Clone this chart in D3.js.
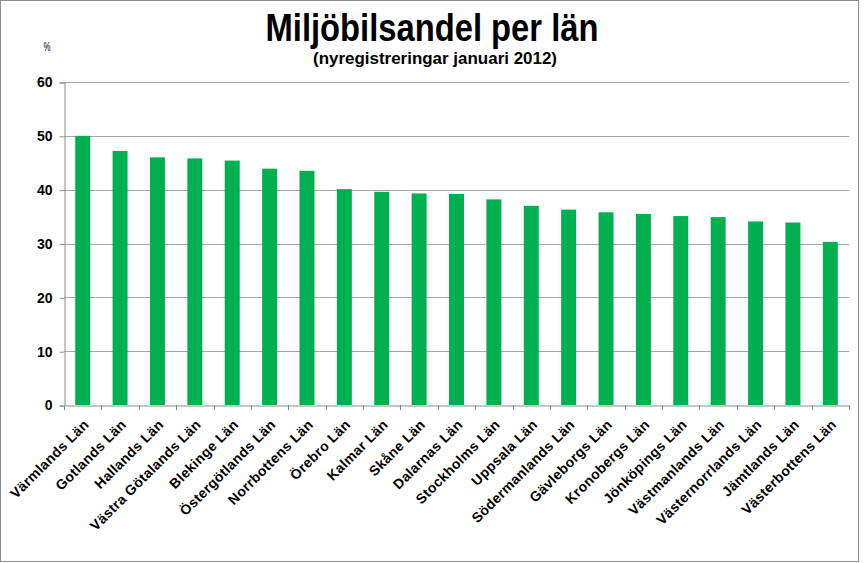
<!DOCTYPE html>
<html><head><meta charset="utf-8">
<script src="https://cdn.jsdelivr.net/npm/d3@7"></script>
<style>body{margin:0;background:#fff}svg{display:block}</style>
</head><body>
<svg id="c" width="864" height="563"></svg>
<script>
const categories = ["Värmlands Län","Gotlands Län","Hallands Län","Västra Götalands Län","Blekinge Län","Östergötlands Län","Norrbottens Län","Örebro Län","Kalmar Län","Skåne Län","Dalarnas Län","Stockholms Län","Uppsala Län","Södermanlands Län","Gävleborgs Län","Kronobergs Län","Jönköpings Län","Västmanlands Län","Västernorrlands Län","Jämtlands Län","Västerbottens Län"];
const values = [50.0,47.2,46.0,45.8,45.4,43.9,43.5,40.1,39.6,39.3,39.2,38.2,37.0,36.3,35.8,35.5,35.1,34.9,34.1,33.9,30.3];
const yTicks = [0,10,20,30,40,50,60];
const title = "Miljöbilsandel per län";
const subtitle = "(nyregistreringar januari 2012)";
const unit = "%";

const svg = d3.select("#c");
const m = {left:64, right:849, top:82, bottom:405};
const x = d3.scaleBand().domain(categories).range([m.left, m.right]).paddingInner(0.6).paddingOuter(0.3);
const y = d3.scaleLinear().domain([0,60]).range([m.bottom, m.top]);

svg.append("rect").attr("x",0.5).attr("y",0.5).attr("width",858).attr("height",561)
  .attr("fill","#fff").attr("stroke","#8c8c8c");

// gridlines
svg.append("g").selectAll("line").data(yTicks.filter(d=>d>0)).join("line")
  .attr("x1",m.left).attr("x2",m.right)
  .attr("y1",d=>Math.round(y(d))+0.5).attr("y2",d=>Math.round(y(d))+0.5)
  .attr("stroke","#a6a6a6");

// bars
svg.append("g").selectAll("rect").data(values).join("rect")
  .attr("x",(d,i)=>x(categories[i])).attr("width",x.bandwidth())
  .attr("y",d=>y(d)).attr("height",d=>y(0)-y(d))
  .attr("fill","#00b050");

// y axis
const ya = d3.axisLeft(y).tickValues(yTicks).tickSize(5).tickPadding(7);
const gy = svg.append("g").attr("transform",`translate(${m.left+0.5},0.5)`).call(ya);
gy.select(".domain").attr("stroke","#8c8c8c");
gy.selectAll(".tick line").attr("stroke","#8c8c8c");
gy.selectAll("text").attr("font-family","Liberation Sans, Arial, sans-serif").attr("font-weight","bold").attr("font-size","14px").attr("fill","#000");

// x axis
const xa = d3.axisBottom(x).tickSize(0).tickFormat(d=>d);
const gx = svg.append("g").attr("transform",`translate(0,${m.bottom+0.5})`).call(xa);
gx.select(".domain").attr("stroke","#8c8c8c");
gx.selectAll(".tick text")
  .attr("font-family","Liberation Sans, Arial, sans-serif").attr("font-weight","bold").attr("font-size","14px").attr("fill","#000")
  .attr("letter-spacing","0.3px")
  .attr("text-anchor","end").attr("dy",null).attr("y",0)
  .attr("transform","translate(7,20) rotate(-45)");
// tick marks at band boundaries
const step = x.step();
const bounds = d3.range(categories.length+1).map(i=>m.left + i*step);
svg.append("g").selectAll("line").data(bounds).join("line")
  .attr("x1",d=>Math.round(d)+0.5).attr("x2",d=>Math.round(d)+0.5)
  .attr("y1",m.bottom).attr("y2",m.bottom+5).attr("stroke","#8c8c8c");

// titles
svg.append("text").attr("x",432).attr("y",41).attr("text-anchor","middle")
  .attr("font-family","Liberation Sans, Arial, sans-serif")
  .attr("font-weight","bold").attr("font-size","39px")
  .attr("textLength",333).attr("lengthAdjust","spacingAndGlyphs").text(title);
svg.append("text").attr("x",435).attr("y",64).attr("text-anchor","middle")
  .attr("font-family","Liberation Sans, Arial, sans-serif")
  .attr("font-weight","bold").attr("font-size","16px")
  .attr("textLength",244).attr("lengthAdjust","spacingAndGlyphs").text(subtitle);
svg.append("text").attr("x",47).attr("y",51).attr("text-anchor","middle")
  .attr("font-family","Liberation Sans, sans-serif")
  .attr("font-size","12px").attr("textLength",7).attr("lengthAdjust","spacingAndGlyphs").text(unit);
</script>
</body></html>
